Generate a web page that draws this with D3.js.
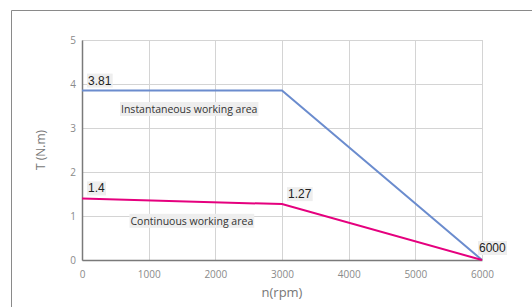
<!DOCTYPE html>
<html>
<head>
<meta charset="utf-8">
<script src="https://cdn.jsdelivr.net/npm/d3@7"></script>
<style>
  html, body { margin: 0; padding: 0; background: #fff; }
  svg { display: block; }
</style>
</head>
<body>
<svg id="chart" width="532" height="307"></svg>
<script>
// data
const speeds = [0, 3000, 6000];
const instantTorque = [3.85, 3.85, 0];
const continuousTorque = [1.4, 1.27, 0];
const xTicks = [0, 1000, 2000, 3000, 4000, 5000, 6000];
const yTicks = [0, 1, 2, 3, 4, 5];
const pointLabels = [
  { x: 0, y: 3.85, text: "3.81" },
  { x: 0, y: 1.4, text: "1.4" },
  { x: 3000, y: 1.27, text: "1.27" },
  { x: 6000, y: 0, text: "6000" }
];
const areaLabels = [
  { x: 585, y: 3.34, text: "Instantaneous working area" },
  { x: 727, y: 0.8, text: "Continuous working area" }
];

const svg = d3.select("#chart");

// outer frame (top + left only)
svg.append("path")
  .attr("d", "M11.5,307 V10.5 H532")
  .attr("fill", "none")
  .attr("stroke", "#8a8a8a")
  .attr("stroke-width", 1);

const margin = { left: 82, top: 40, right: 50, bottom: 47 };
const width = 532 - margin.left - margin.right;
const height = 307 - margin.top - margin.bottom;

const x = d3.scaleLinear().domain([0, 6000]).range([0, width]);
const y = d3.scaleLinear().domain([0, 5]).range([height, 0]);

const g = svg.append("g").attr("transform", `translate(${margin.left},${margin.top})`);

// grid
g.append("g")
  .selectAll("line")
  .data(xTicks)
  .join("line")
  .attr("x1", d => Math.round(x(d)) + 0.5)
  .attr("x2", d => Math.round(x(d)) + 0.5)
  .attr("y1", 0)
  .attr("y2", height)
  .attr("stroke", "#d4d4d4");

g.append("g")
  .selectAll("line")
  .data(yTicks)
  .join("line")
  .attr("x1", 0)
  .attr("x2", width)
  .attr("y1", d => Math.round(y(d)) + 0.5)
  .attr("y2", d => Math.round(y(d)) + 0.5)
  .attr("stroke", "#d4d4d4");

// axes
const xAxis = g.append("g")
  .attr("transform", `translate(0,${height})`)
  .call(d3.axisBottom(x).tickValues(xTicks).tickSize(0).tickPadding(11).tickFormat(d3.format("d")));
const yAxis = g.append("g")
  .call(d3.axisLeft(y).tickValues(yTicks).tickSize(0).tickPadding(6).tickFormat(d3.format("d")));

[xAxis, yAxis].forEach(a => {
  a.select(".domain").attr("stroke", "#7a7a7a").attr("stroke-width", 1.5);
  a.selectAll("text")
    .attr("fill", "#8a8a8a")
    .style("font-family", "'Open Sans', sans-serif")
    .style("font-size", "10px");
});

// curves
const line = d3.line()
  .x((d, i) => x(speeds[i]))
  .y(d => y(d));

g.append("path")
  .datum(instantTorque)
  .attr("d", line)
  .attr("fill", "none")
  .attr("stroke", "#6b8cce")
  .attr("stroke-width", 2);

g.append("path")
  .datum(continuousTorque)
  .attr("d", line)
  .attr("fill", "none")
  .attr("stroke", "#e5007e")
  .attr("stroke-width", 2);

// labels with gray boxes
const labelLayer = g.append("g");

function boxedLabel(px, py, text, font, size, color) {
  const lg = labelLayer.append("g");
  const rect = lg.append("rect").attr("fill", "#eeeeee");
  const t = lg.append("text")
    .attr("x", px)
    .attr("y", py)
    .attr("fill", color)
    .style("font-family", font)
    .style("font-size", size + "px")
    .text(text);
  const b = t.node().getBBox();
  rect.attr("x", b.x - 1)
    .attr("y", b.y)
    .attr("width", b.width + 2)
    .attr("height", b.height);
}

const offsets = [[6, -6], [6, -6], [6, -6], [-3, -8]];
pointLabels.forEach((d, i) => {
  boxedLabel(x(d.x) + offsets[i][0], y(d.y) + offsets[i][1], d.text,
    "'Liberation Sans', Arial, sans-serif", 12, "#222");
});

areaLabels.forEach(d => {
  boxedLabel(x(d.x), y(d.y), d.text, "'Open Sans', sans-serif", 10.5, "#333");
});

// axis titles
svg.append("text")
  .attr("x", margin.left + width / 2)
  .attr("y", 297)
  .attr("text-anchor", "middle")
  .attr("fill", "#777")
  .style("font-family", "'Open Sans', sans-serif")
  .style("font-size", "13px")
  .text("n(rpm)");

svg.append("text")
  .attr("transform", `translate(45,${margin.top + y(2.5)}) rotate(-90)`)
  .attr("text-anchor", "middle")
  .attr("fill", "#777")
  .style("font-family", "'Open Sans', sans-serif")
  .style("font-size", "12px")
  .text("T (N.m)");
</script>
</body>
</html>
